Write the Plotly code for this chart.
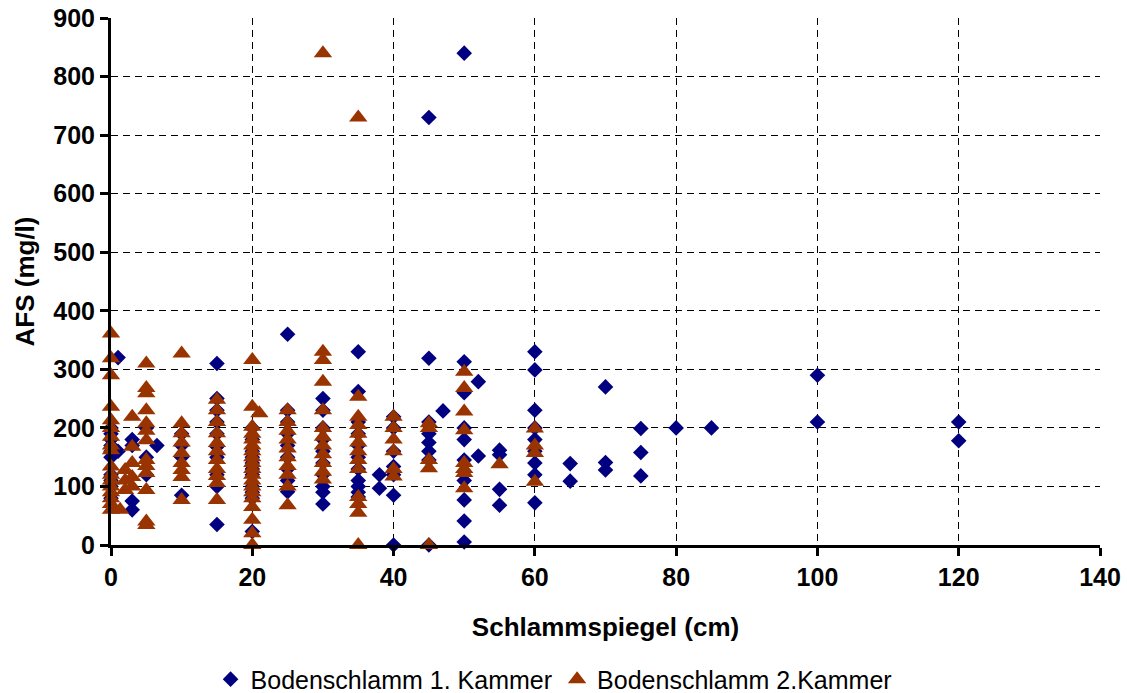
import plotly.graph_objects as go

# Bodenschlamm 1. Kammer (blue diamonds)
x1 = ([0]*10 + [1]*2 + [3]*4 + [5]*3 + [6.5] + [10]*4 + [15]*10 + [20]*11 + [25]*9 + [30]*10
      + [35]*11 + [38]*2 + [40]*7 + [45]*8 + [47] + [50]*10 + [52]*2 + [55]*4 + [60]*9
      + [65]*2 + [70]*3 + [75]*3 + [80] + [85] + [100]*2 + [120]*2)
y1 = ([80, 100, 110, 120, 150, 160, 170, 180, 190, 200]
      + [320, 160]
      + [180, 75, 60, 170]
      + [150, 120, 200]
      + [170]
      + [190, 150, 85, 170]
      + [310, 250, 230, 210, 190, 168, 150, 120, 100, 35]
      + [200, 180, 160, 150, 140, 130, 120, 100, 90, 80, 23]
      + [360, 230, 210, 190, 170, 150, 130, 110, 91]
      + [250, 230, 200, 180, 160, 140, 120, 100, 90, 70]
      + [330, 262, 210, 190, 170, 150, 130, 110, 100, 90, 82]
      + [120, 97]
      + [219, 200, 160, 134, 120, 85, 0]
      + [730, 319, 210, 190, 175, 160, 145, 0]
      + [229]
      + [840, 313, 260, 200, 180, 145, 110, 77, 41, 5]
      + [279, 152]
      + [162, 154, 95, 68]
      + [330, 299, 230, 200, 180, 160, 140, 120, 72]
      + [139, 109]
      + [270, 141, 128]
      + [199, 158, 118]
      + [200]
      + [200]
      + [290, 210]
      + [210, 178])

# Bodenschlamm 2.Kammer (brown triangles)
x2 = ([0]*17 + [1.3] + [2]*3 + [3]*5 + [5]*13 + [10]*9 + [15]*11 + [20]*19 + [21] + [25]*10
      + [30]*11 + [35]*12 + [40]*6 + [45]*5 + [50]*8 + [55] + [60]*4 + [30, 35])
y2 = ([361, 319, 290, 236, 213, 200, 185, 170, 162, 134, 120, 110, 100, 90, 80, 70, 60]
      + [60]
      + [128, 110, 94]
      + [219, 168, 140, 116, 100]
      + [310, 268, 259, 230, 208, 195, 179, 145, 135, 123, 94, 40, 34]
      + [327, 208, 191, 175, 157, 140, 128, 116, 77]
      + [248, 230, 210, 191, 174, 160, 145, 130, 118, 106, 77]
      + [316, 236, 202, 190, 180, 170, 160, 150, 140, 130, 120, 110, 100, 90, 80, 65, 43, 20, 0]
      + [225]
      + [230, 210, 195, 180, 165, 150, 135, 120, 100, 68]
      + [330, 316, 279, 230, 200, 185, 170, 155, 140, 125, 112]
      + [253, 219, 205, 190, 175, 160, 145, 130, 82, 70, 55, 0]
      + [219, 200, 180, 160, 130, 117]
      + [208, 200, 145, 131, 0]
      + [296, 268, 228, 196, 140, 130, 123, 97]
      + [138]
      + [199, 170, 157, 108]
      + [840, 730])

x_ticks = [0, 20, 40, 60, 80, 100, 120, 140]
y_ticks = [0, 100, 200, 300, 400, 500, 600, 700, 800, 900]

FONT = "Liberation Sans, Arial, sans-serif"

fig = go.Figure()
fig.add_trace(go.Scatter(
    x=x1, y=y1, mode="markers", name="Bodenschlamm 1. Kammer",
    marker=dict(symbol="diamond", size=12, color="#000080", line=dict(width=0)),
    cliponaxis=False,
))
fig.add_trace(go.Scatter(
    x=x2, y=y2, mode="markers", name="Bodenschlamm 2.Kammer",
    marker=dict(symbol="triangle-up", size=16, color="#993300", line=dict(width=0)),
    cliponaxis=False,
))

fig.update_layout(
    width=1127, height=693,
    margin=dict(l=111, r=27, t=18, b=148, autoexpand=False),
    paper_bgcolor="white", plot_bgcolor="white",
    font=dict(family=FONT, color="black"),
    showlegend=True,
    legend=dict(orientation="h", x=0.448, xanchor="center", y=-0.255, yanchor="middle",
                font=dict(size=25, family=FONT, color="black"), itemwidth=30,
                tracegroupgap=0),
)
fig.update_xaxes(
    range=[0, 140], tickvals=x_ticks, ticktext=[str(v) for v in x_ticks],
    showline=True, linecolor="black", linewidth=3,
    ticks="outside", ticklen=8, tickwidth=3, tickcolor="black",
    showgrid=True, gridcolor="black", gridwidth=1, griddash="7px,5px",
    zeroline=False, automargin=False,
    tickfont=dict(size=25, family=FONT, weight="bold"),
    title=dict(text="Schlammspiegel (cm)", font=dict(size=26, family=FONT, weight="bold"), standoff=28),
)
fig.update_yaxes(
    range=[0, 900], tickvals=y_ticks, ticktext=[str(v) for v in y_ticks],
    showline=True, linecolor="black", linewidth=3,
    ticks="outside", ticklen=8, tickwidth=3, tickcolor="black",
    showgrid=True, gridcolor="black", gridwidth=1, griddash="7px,5px",
    zeroline=False, automargin=False,
    tickfont=dict(size=25, family=FONT, weight="bold"),
    title=dict(text="AFS (mg/l)", font=dict(size=26, family=FONT, weight="bold"), standoff=12),
)

fig.write_html("out.html")
